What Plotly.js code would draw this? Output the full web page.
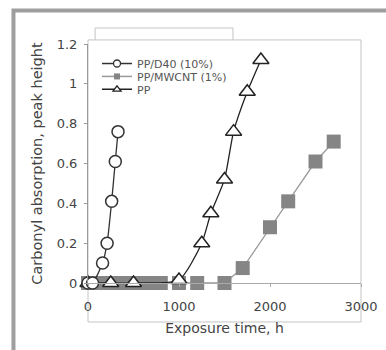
<!DOCTYPE html>
<html><head><meta charset="utf-8">
<script src="https://cdn.plot.ly/plotly-3.0.1.min.js"></script>
<style>html,body{margin:0;padding:0;background:#fff}#chart{width:386px;height:350px}</style>
</head><body><div id="chart"></div>
<script>
// Data
const d40Time = [0, 50, 160, 210, 260, 300, 330];
const d40Carbonyl = [0, 0, 0.1, 0.2, 0.41, 0.61, 0.76];

const mwcntTime = [0, 100, 200, 300, 400, 500, 600, 700, 800, 1000, 1200, 1500, 1700, 2000, 2200, 2500, 2700];
const mwcntCarbonyl = [0, 0, 0, 0, 0, 0, 0, 0, 0, 0, 0, 0, 0.075, 0.28, 0.41, 0.61, 0.71];

const ppTime = [0, 250, 500, 1000, 1250, 1350, 1500, 1600, 1750, 1900];
const ppCarbonyl = [0, 0, 0, 0.015, 0.2, 0.35, 0.52, 0.76, 0.96, 1.12];

const seriesNames = ['PP/D40 (10%)', 'PP/MWCNT (1%)', 'PP'];
const xTicks = [0, 1000, 2000, 3000];
const yTicks = [0, 0.2, 0.4, 0.6, 0.8, 1, 1.2];

const FONT = 'DejaVu Sans, Liberation Sans, Arial, sans-serif';

const traces = [
  {
    x: mwcntTime, y: mwcntCarbonyl, name: seriesNames[1], showlegend: false,
    type: 'scatter', mode: 'lines+markers', cliponaxis: false,
    line: {color: '#9a9a9a', width: 1.3},
    marker: {symbol: 'square', size: 14, color: '#858585', line: {width: 0}}
  },
  {
    x: ppTime, y: ppCarbonyl, name: seriesNames[2], showlegend: false,
    type: 'scatter', mode: 'lines+markers', cliponaxis: false,
    line: {color: '#222', width: 1.3, shape: 'spline', smoothing: 0.6},
    marker: {symbol: 'triangle-up', size: 14, color: '#fff', line: {color: '#222', width: 1.5}}
  },
  {
    x: d40Time, y: d40Carbonyl, name: seriesNames[0], showlegend: false,
    type: 'scatter', mode: 'lines+markers', cliponaxis: false,
    line: {color: '#333', width: 1.3, shape: 'spline', smoothing: 0.6},
    marker: {symbol: 'circle', size: 12, color: '#fff', line: {color: '#333', width: 1.5}}
  },
  // legend entries (small symbols as in the reference key)
  {
    x: [null], y: [null], name: seriesNames[0], legend: 'legend',
    type: 'scatter', mode: 'lines+markers', line: {color: '#333', width: 1.5},
    marker: {symbol: 'circle', size: 7, color: '#fff', line: {color: '#333', width: 1.3}}
  },
  {
    x: [null], y: [null], name: seriesNames[1], legend: 'legend2',
    type: 'scatter', mode: 'lines+markers', line: {color: '#9a9a9a', width: 1.5},
    marker: {symbol: 'square', size: 6, color: '#858585', line: {width: 0}}
  },
  {
    x: [null], y: [null], name: seriesNames[2], legend: 'legend3',
    type: 'scatter', mode: 'lines+markers', line: {color: '#222', width: 1.5},
    marker: {symbol: 'triangle-up', size: 7, color: '#fff', line: {color: '#222', width: 1.3}}
  }
];

function legendAt(y) {
  return {
    x: 0.033, y: y, xanchor: 'left', yanchor: 'top',
    bgcolor: 'rgba(0,0,0,0)', borderwidth: 0,
    font: {size: 11, color: '#555', family: FONT}
  };
}

const layout = {
  width: 386, height: 350,
  margin: {l: 88, r: 25, t: 44, b: 67},
  paper_bgcolor: '#fff', plot_bgcolor: 'rgba(0,0,0,0)',
  font: {family: FONT, color: '#444'},
  showlegend: true,
  legend: legendAt(0.979),
  legend2: legendAt(0.925),
  legend3: legendAt(0.871),
  xaxis: {
    range: [0, 3000], tickvals: xTicks, ticktext: xTicks.map(String),
    showgrid: false, zeroline: false, showline: true, linecolor: '#aaa', linewidth: 1,
    ticks: 'outside', ticklen: 3, tickcolor: '#aaa',
    tickfont: {size: 13, color: '#444'}, ticklabelstandoff: 8,
    title: {text: 'Exposure time, h', font: {size: 14, color: '#444'}, standoff: 10},
    fixedrange: true
  },
  yaxis: {
    range: [0, 1.2], tickvals: yTicks, ticktext: yTicks.map(String),
    showgrid: false, zeroline: false, showline: true, linecolor: '#999', linewidth: 1,
    ticks: 'outside', ticklen: 3, tickcolor: '#999',
    tickfont: {size: 13, color: '#444'}, ticklabelstandoff: 4,
    title: {text: 'Carbonyl absorption, peak height', font: {size: 14.5, color: '#444'}, standoff: 10},
    fixedrange: true
  },
  shapes: [
    // outer scanned-figure border
    {type: 'path', xref: 'paper', yref: 'paper',
     path: 'M -0.273,-0.35 L -0.273,1.14 L 1.12,1.14',
     line: {color: '#9e9e9e', width: 4}, layer: 'below'},
    // plot-area frame
    {type: 'rect', xref: 'paper', yref: 'paper', x0: 0, x1: 1, y0: -0.163, y1: 1.017,
     line: {color: '#c4c4c4', width: 1}, layer: 'below'},
    {type: 'path', xref: 'paper', yref: 'paper',
     path: 'M 0.026,1.017 L 0.026,1.067 L 0.531,1.067 L 0.531,1.017',
     line: {color: '#c4c4c4', width: 1}, layer: 'below'}
  ]
};

Plotly.newPlot('chart', traces, layout, {displayModeBar: false, staticPlot: true});
</script></body></html>
